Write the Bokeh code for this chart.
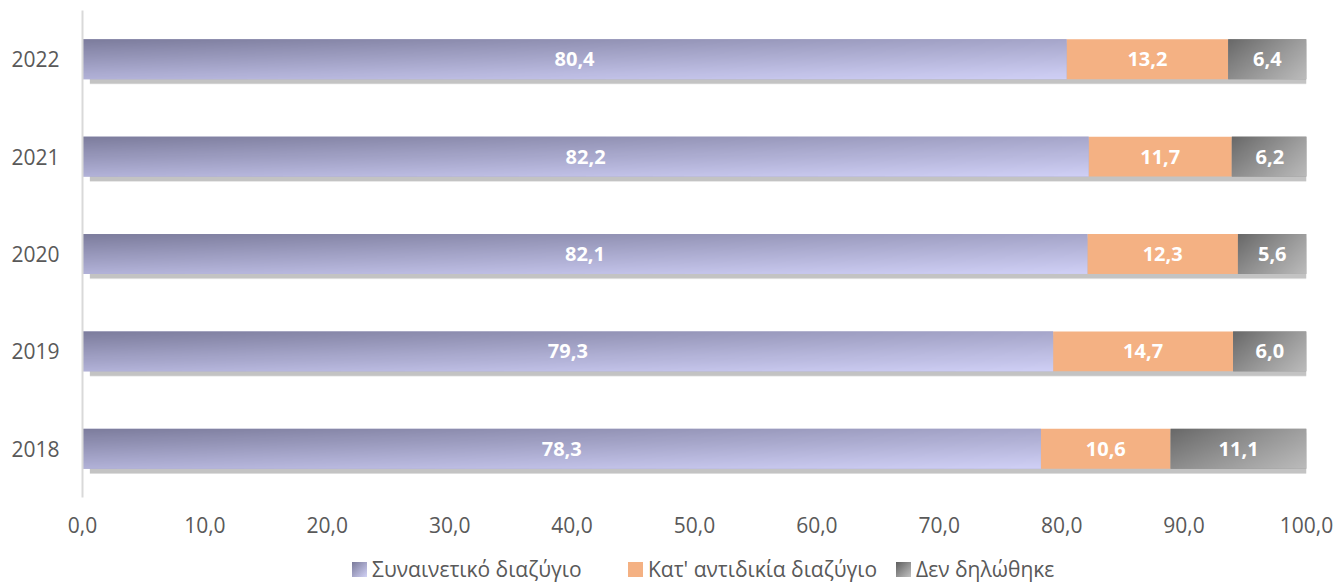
import numpy as np
from bokeh.plotting import figure
from bokeh.layouts import column
from bokeh.models import FixedTicker, ColumnDataSource, Range1d, Div
from bokeh.core.properties import value
from bokeh.embed import file_html
from bokeh.resources import INLINE

# ---- data ----
years = ["2018", "2019", "2020", "2021", "2022"]
consensual = [78.3, 79.3, 82.1, 82.2, 80.4]
contested = [10.6, 14.7, 12.3, 11.7, 13.2]
undeclared = [11.1, 6.0, 5.6, 6.2, 6.4]
series_names = ["Συναινετικό διαζύγιο", "Κατ' αντιδικία διαζύγιο", "Δεν δηλώθηκε"]
x_ticks = [0, 10, 20, 30, 40, 50, 60, 70, 80, 90, 100]
x_tick_labels = ["0,0", "10,0", "20,0", "30,0", "40,0", "50,0", "60,0", "70,0", "80,0", "90,0", "100,0"]

FONT = "Open Sans"
BAR_H = 0.41
W = 1336

p = figure(width=W, height=545, output_backend="svg", toolbar_location=None,
           x_range=Range1d(0, 100), y_range=Range1d(-0.5, 4.5),
           min_border_left=82, min_border_right=30, min_border_top=10, min_border_bottom=48)
p.outline_line_color = None
p.grid.grid_line_color = None
p.background_fill_color = "white"

ypos = list(range(len(years)))

# x axis
p.xaxis.ticker = FixedTicker(ticks=x_ticks)
p.xaxis.major_label_overrides = {t: l for t, l in zip(x_ticks, x_tick_labels)}
p.xaxis.axis_line_color = None
p.xaxis.major_tick_line_color = None
p.xaxis.minor_tick_line_color = None
p.xaxis.major_tick_out = 0
p.xaxis.major_label_standoff = 19
p.xaxis.major_label_text_font = FONT
p.xaxis.major_label_text_font_size = "21px"
p.xaxis.major_label_text_color = "#595959"

# y axis
p.yaxis.ticker = FixedTicker(ticks=ypos)
p.yaxis.major_label_overrides = {i: y for i, y in zip(ypos, years)}
p.yaxis.axis_line_color = "#d9d9d9"
p.yaxis.axis_line_width = 2
p.yaxis.major_tick_line_color = None
p.yaxis.minor_tick_line_color = None
p.yaxis.major_tick_out = 0
p.yaxis.major_label_standoff = 23
p.yaxis.major_label_text_font = FONT
p.yaxis.major_label_text_font_size = "21px"
p.yaxis.major_label_text_color = "#595959"

left1 = [0.0] * len(years)
right1 = consensual
left2 = consensual
right2 = [a + b for a, b in zip(consensual, contested)]
left3 = right2
right3 = [a + b + c for a, b, c in zip(consensual, contested, undeclared)]

# soft shadows
for dy, dh, alpha in [(0.03, 0.05, 0.05), (0.04, 0.02, 0.08), (0.045, 0.0, 0.12)]:
    p.hbar(y=[y - dy for y in ypos], left=[l + 0.6 for l in left1],
           right=[r + 0.15 for r in right3], height=BAR_H + dh,
           fill_color="black", fill_alpha=alpha, line_color=None)

p.hbar(y=ypos, left=left1, right=right1, height=BAR_H, fill_color="#a6a6cc", line_color=None)
p.hbar(y=ypos, left=left2, right=right2, height=BAR_H, fill_color="#F4B183", line_color=None)
p.hbar(y=ypos, left=left3, right=right3, height=BAR_H, fill_color="#8c8c8c", line_color=None)


def gradient(tl, tr, bl, br, nx=256, ny=40):
    u = np.linspace(0, 1, nx)[None, :, None]
    v = np.linspace(1, 0, ny)[:, None, None]  # row 0 = bottom
    tl, tr, bl, br = [np.array(c, dtype=float)[None, None, :] for c in (tl, tr, bl, br)]
    c = tl * (1 - u) * (1 - v) + tr * u * (1 - v) + bl * (1 - u) * v + br * u * v
    img = np.empty((ny, nx), dtype=np.uint32)
    view = img.view(dtype=np.uint8).reshape((ny, nx, 4))
    view[:, :, :3] = np.clip(c, 0, 255).astype(np.uint8)
    view[:, :, 3] = 255
    return img


g_purple = gradient((124, 124, 156), (166, 166, 202), (178, 178, 216), (208, 208, 246))
g_gray = gradient((104, 104, 104), (160, 160, 160), (140, 140, 140), (188, 188, 188))

for i in ypos:
    p.image_rgba(image=[g_purple], x=left1[i], y=i - BAR_H / 2, dw=right1[i] - left1[i], dh=BAR_H)
    p.image_rgba(image=[g_gray], x=left3[i], y=i - BAR_H / 2, dw=right3[i] - left3[i], dh=BAR_H)

# labels
def fmt(v):
    return f"{v:.1f}".replace(".", ",")

lx, ly, lt = [], [], []
for lefts, vals in [(left1, consensual), (left2, contested), (left3, undeclared)]:
    for i in ypos:
        lx.append(lefts[i] + vals[i] / 2)
        ly.append(i)
        lt.append(fmt(vals[i]))
src = ColumnDataSource(dict(x=lx, y=ly, t=lt))
p.text(x="x", y="y", text="t", source=src, text_align="center", text_baseline="middle",
       text_color="white", text_font=value(FONT), text_font_style="bold", text_font_size="20px")

# legend (HTML below the plot)
swatches = [
    "linear-gradient(135deg, #7a7a9a 0%, #d2d2f6 100%)",
    "#F4B183",
    "linear-gradient(135deg, #5e5e5e 0%, #c2c2c2 100%)",
]
lefts_px = [352, 628, 896]
items = ""
for name, sw, lp in zip(series_names, swatches, lefts_px):
    items += (
        f'<span style="position:absolute;left:{lp}px;top:10px;white-space:nowrap;'
        f'line-height:28px;">'
        f'<span style="display:inline-block;width:15px;height:15px;background:{sw};'
        f'vertical-align:middle;margin-right:5px;position:relative;top:-2px;"></span>'
        f'{name}</span>'
    )
legend_html = (
    f'<div style="position:relative;width:{W}px;height:37px;overflow:hidden;'
    f'font-family:\'Open Sans\';font-size:21px;color:#595959;">{items}</div>'
)
legend_div = Div(text=legend_html, width=W, height=37, margin=(0, 0, 0, 0))

layout = column(p, legend_div, spacing=0, margin=(0, 0, 0, 0))

open("out.html", "w").write(file_html(layout, INLINE))
